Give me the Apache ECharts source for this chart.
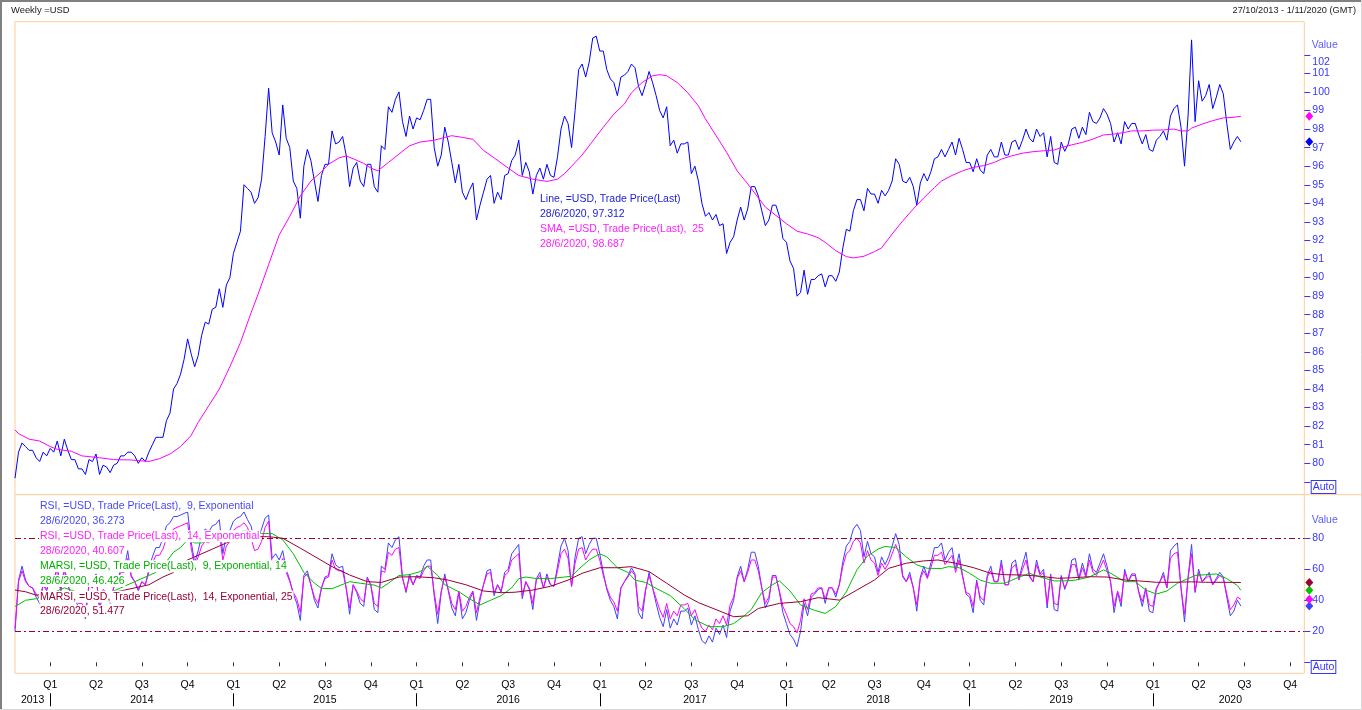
<!DOCTYPE html>
<html><head><meta charset="utf-8">
<script src="https://cdn.jsdelivr.net/npm/echarts@6/dist/echarts.min.js"></script>
<style>html,body{margin:0;padding:0;background:#fff;}#c{width:1362px;height:710px;}</style>
</head><body><div id="c"></div>
<script>
// ---------------- data ----------------
const startWeek = '2013-10-27';
const weekCount = 367;               // weekly slots up to 1/11/2020
const quarterNames = ['Q1', 'Q2', 'Q3', 'Q4'];
const headerLeft = 'Weekly =USD';
const headerRight = '27/10/2013 - 1/11/2020 (GMT)';
const lastDate = '28/6/2020';

const priceValues = [
79.2,80.6,81.1,80.9,80.7,80.7,80.3,80.1,80.6,80.4,
80.8,80.6,81.2,80.4,81.3,80.7,80.2,80.2,79.7,79.7,
79.4,80.2,80.1,80.5,79.4,79.9,79.8,79.5,79.9,80.0,
80.4,80.4,80.6,80.6,80.4,80.0,80.3,80.1,80.6,81.0,
81.4,81.4,81.4,82.3,82.7,84.0,84.3,84.8,85.6,86.7,
85.9,85.2,85.8,86.9,87.6,87.5,88.3,88.4,89.4,88.4,
89.6,90.0,91.3,91.9,92.5,95.0,94.8,94.6,94.0,94.3,
95.3,97.6,100.2,97.8,97.3,96.6,99.3,97.5,97.0,95.2,
94.8,93.2,96.0,96.9,96.3,95.2,94.1,95.5,96.1,96.1,
97.9,97.2,97.3,97.6,96.6,94.9,95.9,96.2,95.2,94.9,
96.1,96.1,94.9,94.6,97.1,96.9,99.2,98.9,99.6,100.0,
98.4,97.6,98.7,98.0,98.6,98.5,99.0,99.6,99.6,97.0,
96.0,96.6,98.1,97.3,96.2,95.1,96.1,94.6,94.2,94.7,
95.1,93.1,93.9,94.6,95.3,95.5,94.0,94.6,94.2,95.5,
95.6,96.3,96.6,97.4,95.5,96.2,95.7,94.5,95.5,95.9,
95.3,96.1,95.5,95.4,96.5,98.0,98.7,98.3,97.0,99.0,
101.2,101.5,100.8,101.6,102.9,103.0,102.2,102.2,101.2,100.7,
100.5,99.8,100.8,100.9,101.1,101.5,101.3,100.3,99.8,100.4,
101.1,100.5,99.8,99.0,98.6,99.2,97.1,97.4,96.7,97.2,
97.2,97.3,95.6,96.0,95.2,94.0,93.3,93.5,93.1,93.4,
92.8,92.9,91.3,91.9,92.2,93.1,93.8,93.1,93.7,94.9,
94.9,94.4,93.6,92.8,93.1,93.9,93.9,93.3,92.1,91.9,
90.9,90.5,89.0,89.2,90.4,89.1,89.9,89.9,90.1,90.2,
89.5,90.1,90.1,89.8,90.3,91.6,92.6,92.5,93.6,94.2,
94.2,93.6,94.8,94.5,94.5,94.0,94.7,94.4,94.7,95.2,
96.4,96.1,95.2,95.1,95.4,94.9,93.9,95.1,95.6,95.2,
95.7,96.4,96.5,96.9,96.5,96.9,97.3,96.6,97.5,96.9,
96.2,96.2,95.7,96.4,95.8,95.6,96.6,96.9,96.5,96.5,
97.3,96.6,96.6,97.3,97.4,96.9,97.4,98.0,97.5,97.3,
98.0,97.6,97.8,96.5,97.6,96.2,96.1,97.3,96.8,97.2,
98.0,98.1,97.5,98.1,97.7,98.9,98.4,98.3,98.6,99.1,
98.8,98.3,97.3,97.8,97.2,98.4,98.0,98.3,98.3,97.7,
97.2,97.7,96.9,96.8,97.4,97.6,97.9,97.4,98.7,99.1,
99.3,98.1,96.0,98.7,102.8,98.4,100.6,99.5,99.8,100.4,
99.1,99.7,100.4,99.9,98.3,96.9,97.3,97.6,97.312
];

// SMA(25): [week number, value]
const smaPoints = [[0,81.8],[1,81.6],[4,81.3],[7,81.2],[10,80.9],[12,80.75],[16,80.65],[19,80.4],[24,80.3],[28,80.2],[33,80.18],[38,80.1],[41,80.25],[44,80.5],[47,80.9],[50,81.5],[52,82.2],[55,83.1],[58,84.0],[61,85.2],[64,86.5],[67,88.1],[69,89.1],[72,90.7],[75,92.3],[78,93.3],[81,94.4],[84,95.2],[87,95.7],[89,96.1],[92,96.45],[94,96.55],[96,96.4],[99,96.15],[101,95.9],[103,95.75],[106,96.2],[109,96.65],[112,97.1],[115,97.3],[119,97.4],[122,97.55],[124,97.64],[127,97.55],[130,97.45],[133,96.85],[136,96.45],[140,95.9],[143,95.5],[147,95.3],[151,95.18],[154,95.3],[156,95.6],[158,96.0],[161,96.6],[164,97.35],[167,98.1],[170,98.8],[173,99.35],[175,99.95],[178,100.5],[181,100.87],[183,100.93],[185,100.87],[188,100.5],[191,99.95],[194,99.25],[196,98.55],[199,97.65],[202,96.75],[205,95.75],[208,95.05],[211,94.3],[213,93.8],[216,93.35],[219,92.9],[222,92.5],[225,92.35],[228,92.15],[230,91.9],[233,91.45],[236,91.13],[238,91.06],[241,91.15],[244,91.4],[246,91.6],[249,92.35],[252,93.05],[255,93.7],[258,94.3],[261,94.85],[263,95.2],[266,95.5],[269,95.75],[272,95.93],[275,96.03],[278,96.2],[280,96.38],[283,96.56],[286,96.7],[289,96.78],[292,96.83],[295,96.87],[297,97.0],[300,97.15],[303,97.28],[306,97.46],[309,97.68],[312,97.73],[315,97.82],[317,97.9],[320,97.9],[323,97.94],[326,97.95],[329,98.0],[331,97.9],[333,97.9],[334,98.05],[337,98.27],[340,98.45],[343,98.6],[346,98.63],[348,98.687]];

const rsi9Values = [
20,53,62,53,49,48,42,38,50,46,
56,52,63,45,62,50,42,42,35,35,
28,50,48,57,33,46,44,38,48,51,
60,60,72,56,52,46,52,50,60,68,
74,74,80,88,90,94,94,95,96,97,
78,64,72,82,86,84,88,89,92,70,
82,85,91,93,94,97,92,88,78,80,
86,93,95,67,70,66,72,60,53,44,
38,27,56,59,50,40,35,48,55,56,
70,63,61,62,48,31,50,45,38,36,
55,50,34,32,62,60,77,74,79,81,
55,45,57,50,56,55,62,66,66,43,
25,45,57,46,35,30,45,28,32,40,
45,27,40,50,59,60,43,50,45,58,
60,70,73,76,41,52,47,34,54,58,
48,57,50,49,62,75,80,72,49,68,
80,81,70,76,80,80,70,58,47,40,
36,28,48,52,56,61,57,32,28,46,
58,48,38,29,23,34,22,28,24,33,
33,35,24,30,21,14,12,17,13,22,
18,24,16,33,40,55,62,52,60,71,
71,62,48,35,40,56,56,45,32,25,
18,15,10,20,38,30,42,44,47,48,
38,48,48,42,50,65,75,78,86,89,
85,68,78,70,68,58,68,63,68,75,
83,76,56,52,58,48,33,55,62,55,
64,74,74,77,66,71,74,60,70,56,
44,42,32,53,40,37,56,62,52,52,
66,50,50,64,66,54,63,71,56,52,
66,57,60,35,57,34,33,56,47,54,
66,67,54,64,56,70,60,58,64,70,
62,52,32,45,36,60,52,57,57,45,
36,47,33,32,47,52,58,48,72,75,
77,48,26,55,76,45,60,52,55,58,
50,54,58,55,42,30,33,40,36.273
];

const rsi14Values = [
22,52,59,52,49,48,44,41,50,47,
55,52,60,46,59,50,44,44,38,38,
33,50,48,55,37,47,45,41,48,51,
58,58,67,55,52,47,52,50,58,64,
69,69,73,80,81,86,87,88,89,90,
74,62,68,75,78,77,80,81,83,66,
75,78,85,87,88,90,87,80,72,73,
78,87,91,63,66,62,67,58,52,45,
41,32,55,57,50,42,38,48,54,55,
66,60,59,59,48,35,50,46,41,39,
54,50,38,36,59,58,71,69,73,74,
54,46,55,50,55,54,59,62,62,45,
31,46,55,47,38,34,46,33,36,42,
46,32,42,50,57,58,45,50,46,56,
58,66,68,70,43,52,48,38,53,56,
48,55,50,49,59,70,73,67,49,64,
73,74,66,70,73,73,66,56,48,42,
39,33,48,52,55,59,56,36,33,47,
56,48,41,34,29,38,28,33,30,37,
37,38,30,34,27,22,20,24,21,28,
25,30,24,37,42,54,59,52,58,66,
66,59,48,38,42,55,55,46,36,31,
25,23,19,27,41,34,44,45,48,48,
41,48,48,44,50,62,70,72,78,80,
77,64,72,66,64,56,64,60,64,70,
76,70,55,52,56,48,37,54,59,54,
61,69,69,71,63,66,69,58,66,55,
45,44,36,52,42,40,55,59,52,52,
63,50,50,61,63,53,60,66,55,52,
63,56,58,38,56,38,37,55,48,53,
63,63,53,61,55,66,58,56,61,66,
59,52,36,46,39,58,52,56,56,46,
39,48,37,36,48,52,56,48,67,70,
71,48,31,54,70,46,58,52,54,56,
50,53,56,54,44,34,37,42,40.607
];

// smoothed RSI averages: [week number, value]
const marsi9Points = [[0,36],[3,40],[6,41],[10,44],[14,48],[18,45],[22,43],[26,44],[30,48],[34,52],[38,56],[40,58],[43,65],[45,71],[47,74],[49,79],[51,77],[53,77],[56,80],[59,80],[62,82],[65,85],[68,84],[70,83],[73,83],[76,79],[79,70],[82,58],[85,51],[87,47.7],[90,47.5],[95,52],[98,51],[102,49.8],[104,48],[106,51],[109,56],[112,56.5],[115,58.5],[117,62],[120,56],[122,50],[126,45.5],[129,41],[132,37],[135,40],[138,43],[141,48],[143,54],[145,55],[148,54],[152,54],[156,55],[158,55.5],[160,60],[163,66],[166,70],[168,68],[171,61],[174,58],[176,53],[179,51.5],[182,47.7],[186,43],[190,34.5],[193,27.5],[197,23],[201,23],[204,25],[207,30],[209,34],[212,45],[215,50],[217,52.5],[220,46],[223,37],[227,33.5],[230,31.5],[233,36],[236,45.5],[239,59.6],[242,68.5],[245,73],[247,74.7],[250,74],[253,68],[256,62.8],[259,60.6],[263,60.5],[265,61.7],[268,61],[271,57.4],[274,53],[277,51],[281,51],[284,54],[288,57.4],[291,55],[295,52.5],[298,52.5],[301,53],[305,55],[309,59.6],[311,57.5],[315,52],[318,52],[321,46.6],[324,44],[327,46],[330,51],[333,54],[335,56],[338,56.5],[341,57],[344,54],[347,49.5],[348,46.426]];

const marsi14Points = [[0,46.6],[3,45.5],[6,43.3],[10,44],[15,45.5],[20,45],[25,44.5],[30,46],[34,48],[38,50],[42,55],[45,58],[49,66],[52,69],[56,73],[60,77],[64,80],[68,81],[72,81],[76,80],[81,73.6],[86,67],[90,61.7],[95,56.3],[100,52],[104,51.5],[109,55],[114,55.2],[119,54.5],[123,53],[128,50],[133,46],[138,44.9],[142,45.2],[147,46.6],[152,49],[157,53],[161,57.4],[166,61],[171,61],[175,61.7],[180,58.5],[185,51],[190,43.4],[194,38.5],[199,34],[204,29.4],[208,30],[211,34.7],[217,38],[223,39.1],[228,41.7],[234,40.1],[239,46.6],[244,53.1],[248,60.6],[253,63.9],[258,65.4],[262,66],[267,63.9],[272,61.1],[277,57.4],[281,56.5],[286,56.3],[291,55.5],[296,54.2],[300,54.5],[305,55.2],[310,55],[315,53.1],[319,52.5],[324,51.6],[329,51.6],[334,51.9],[338,51.6],[343,51.6],[348,51.477]];

const rsiLevels = [80, 20];
const priceTickValues = [79,80,81,82,83,84,85,86,87,88,89,90,91,92,93,94,95,96,97,98,99,100,101,102];
const priceLabelValues = [80,81,82,83,84,85,86,87,88,89,90,91,92,93,94,95,96,97,98,99,100,101,102];
const rsiTickValues = [0,20,40,60,80];
const rsiLabelValues = [20,40,60,80];
const lastLine = 97.312, lastSma = 98.687, lastRsi9 = 36.273, lastRsi14 = 40.607, lastMarsi9 = 46.426, lastMarsi14 = 51.477;

// ---------------- axis helpers ----------------
const weeks = [];
const t0 = Date.parse(startWeek + 'T00:00:00Z');
for (let k = 0; k < weekCount; k++) weeks.push(new Date(t0 + k * 7 * 86400000).toISOString().slice(0, 10));
const monthOf = k => +weeks[k].slice(5, 7) - 1;
const yearOf = k => weeks[k].slice(0, 4);
const isQuarterStart = k => k > 0 && monthOf(k) % 3 === 0 && monthOf(k) !== monthOf(k - 1);
const isYearStart = k => k > 0 && yearOf(k) !== yearOf(k - 1);
const yearStarts = [0];
for (let k = 1; k < weekCount; k++) if (isYearStart(k)) yearStarts.push(k);
const yearMid = {};
yearStarts.forEach((a, j) => {
  const b = j + 1 < yearStarts.length ? yearStarts[j + 1] : weekCount - 1;
  yearMid[Math.round((a + b) / 2)] = yearOf(a);
});
const lastWeek = weeks[weekCount - 1];

const FONT = '"Liberation Sans", Arial, sans-serif';
const AXIS_BLUE = '#3535ff';

const baseX = { type: 'category', data: weeks, boundaryGap: false, axisLine: { show: false }, splitLine: { show: false } };

function lineSeries(name, data, color, width, xi, yi, lastVal, extra) {
  return Object.assign({
    name, type: 'line', data, xAxisIndex: xi, yAxisIndex: yi,
    symbol: 'none', showSymbol: false, silent: true, animation: false,
    lineStyle: { color, width }, itemStyle: { color },
    emphasis: { disabled: true },
    markPoint: {
      silent: true, symbol: 'diamond', symbolSize: [8, 9], symbolOffset: [5, 0],
      label: { show: false }, itemStyle: { color },
      data: [{ coord: [lastWeek, lastVal] }]
    }
  }, extra || {});
}

function txt(text, x, y, color, extra) {
  return Object.assign({
    type: 'text', z: 100, silent: true,
    style: Object.assign({
      text, x, y, fill: color, font: '10.5px ' + FONT,
      textAlign: 'left', align: 'left', textVerticalAlign: 'middle', verticalAlign: 'middle',
      backgroundColor: '#ffffff', padding: [0, 1], lineHeight: 12
    }, extra || {})
  });
}

const chart = echarts.init(document.getElementById('c'), null, { renderer: 'canvas' });
chart.setOption({
  animation: false,
  backgroundColor: '#ffffff',
  grid: [
    { left: 15, right: 57.7, top: 21.7, height: 473, show: true, borderColor: '#ffcc99', borderWidth: 1, backgroundColor: '#fff', containLabel: false, outerBoundsMode: 'none' },
    { left: 15, right: 57.7, top: 494.7, height: 178.6, show: true, borderColor: '#ffcc99', borderWidth: 1, backgroundColor: '#fff', containLabel: false, outerBoundsMode: 'none' }
  ],
  xAxis: [
    Object.assign({}, baseX, { gridIndex: 0, axisTick: { show: false }, axisLabel: { show: false } }),
    Object.assign({}, baseX, {
      gridIndex: 1, position: 'bottom',
      axisTick: { show: true, interval: (i) => isQuarterStart(i), length: 4, lineStyle: { color: '#333' } },
      axisLabel: { interval: (i) => isQuarterStart(i), formatter: (v, i) => quarterNames[Math.floor(monthOf(i) / 3)], margin: 6, fontSize: 10.5, fontFamily: FONT, color: '#000' }
    }),
    Object.assign({}, baseX, {
      gridIndex: 1, position: 'bottom', offset: 20,
      axisTick: { show: true, interval: (i) => isYearStart(i), length: 13, lineStyle: { color: '#000' } },
      axisLabel: { interval: (i) => (i in yearMid), formatter: (v, i) => yearMid[i], margin: 1, fontSize: 10.5, fontFamily: FONT, color: '#000' }
    })
  ],
  yAxis: [
    {
      type: 'value', gridIndex: 0, position: 'right', min: 78.31, max: 103.78,
      axisLine: { show: false }, splitLine: { show: false },
      axisTick: { show: true, customValues: priceTickValues, length: 6, lineStyle: { color: AXIS_BLUE } },
      axisLabel: {
        customValues: priceLabelValues, margin: 8, color: AXIS_BLUE, fontSize: 10.5, fontFamily: FONT,
        formatter: v => (v === 102 ? '{low|102}' : String(v)),
        rich: { low: { padding: [14, 0, 0, 0], color: AXIS_BLUE, fontSize: 10.5, fontFamily: FONT } }
      }
    },
    {
      type: 'value', gridIndex: 1, position: 'right', min: -7.1, max: 108.1,
      axisLine: { show: false }, splitLine: { show: false },
      axisTick: { show: true, customValues: rsiTickValues, length: 6, lineStyle: { color: AXIS_BLUE } },
      axisLabel: { customValues: rsiLabelValues, margin: 8, color: AXIS_BLUE, fontSize: 10.5, fontFamily: FONT }
    }
  ],
  series: [
    lineSeries('Line', priceValues, '#0000ff', 1, 0, 0, lastLine),
    lineSeries('SMA', smaPoints, '#ff00ff', 1, 0, 0, lastSma),
    lineSeries('RSI9', rsi9Values, '#4040ff', 1, 1, 1, lastRsi9, {
      markLine: {
        silent: true, symbol: ['none', 'none'], label: { show: false }, animation: false,
        lineStyle: { color: '#990033', type: [6, 3, 2, 3], width: 1.2 },
        data: rsiLevels.map(v => ({ yAxis: v }))
      }
    }),
    lineSeries('RSI14', rsi14Values, '#ff00ff', 1, 1, 1, lastRsi14),
    lineSeries('MARSI9', marsi9Points, '#00c000', 1, 1, 1, lastMarsi9),
    lineSeries('MARSI14', marsi14Points, '#990033', 1, 1, 1, lastMarsi14)
  ],
  graphic: [
    // window frame
    { type: 'polyline', z: 100, silent: true, shape: { points: [[1, 710], [1, 1], [1362, 1]] }, style: { stroke: '#808080', lineWidth: 2, fill: null } },
    { type: 'polyline', z: 100, silent: true, shape: { points: [[0, 709.5], [1361.5, 709.5], [1361.5, 0]] }, style: { stroke: '#d8d8d8', lineWidth: 1, fill: null } },
    // pane separator running into the axis area
    { type: 'line', z: 100, silent: true, shape: { x1: 1304, y1: 494.7, x2: 1362, y2: 494.7 }, style: { stroke: '#ffcc99', lineWidth: 1 } },
    // header
    txt(headerLeft, 10, 10, '#1a1a1a', { font: '9.4px ' + FONT, backgroundColor: null }),
    txt(headerRight, 1357, 10, '#1a1a1a', { font: '9.2px ' + FONT, backgroundColor: null, textAlign: 'right', align: 'right' }),
    // axis titles and Auto boxes
    txt('Value', 1310.7, 45, '#5c5cff', { backgroundColor: null }),
    txt('Value', 1310.7, 520, '#5c5cff', { backgroundColor: null }),
    txt('Auto', 1311.7, 481, AXIS_BLUE, { textVerticalAlign: 'top', verticalAlign: 'top', borderColor: AXIS_BLUE, borderWidth: 1, padding: [0, 1, 0, 1], backgroundColor: '#fff' }),
    txt('Auto', 1311.7, 661, AXIS_BLUE, { textVerticalAlign: 'top', verticalAlign: 'top', borderColor: AXIS_BLUE, borderWidth: 1, padding: [0, 1, 0, 1], backgroundColor: '#fff' }),
    // top legend
    txt('Line, =USD, Trade Price(Last)', 539, 199, '#2020dd'),
    txt(lastDate + ', ' + lastLine, 539, 214, '#2020dd'),
    txt('SMA, =USD, Trade Price(Last),  25', 539, 229, '#ff22ff'),
    txt(lastDate + ', ' + lastSma, 539, 244, '#ff22ff'),
    // bottom legend
    txt('RSI, =USD, Trade Price(Last),  9, Exponential', 39, 505.7, '#4848ff'),
    txt(lastDate + ', ' + lastRsi9, 39, 521, '#4848ff'),
    txt('RSI, =USD, Trade Price(Last),  14, Exponential', 39, 536.3, '#ff22ff'),
    txt(lastDate + ', ' + lastRsi14, 39, 551, '#ff22ff'),
    txt('MARSI, =USD, Trade Price(Last),  9, Exponential, 14', 39, 566.3, '#00b000'),
    txt(lastDate + ', ' + lastMarsi9, 39, 581, '#00b000'),
    txt('MARSI, =USD, Trade Price(Last),  14, Exponential, 25', 39, 596.7, '#990033'),
    txt(lastDate + ', ' + lastMarsi14, 39, 611.3, '#990033')
  ]
});
</script>
</body></html>
